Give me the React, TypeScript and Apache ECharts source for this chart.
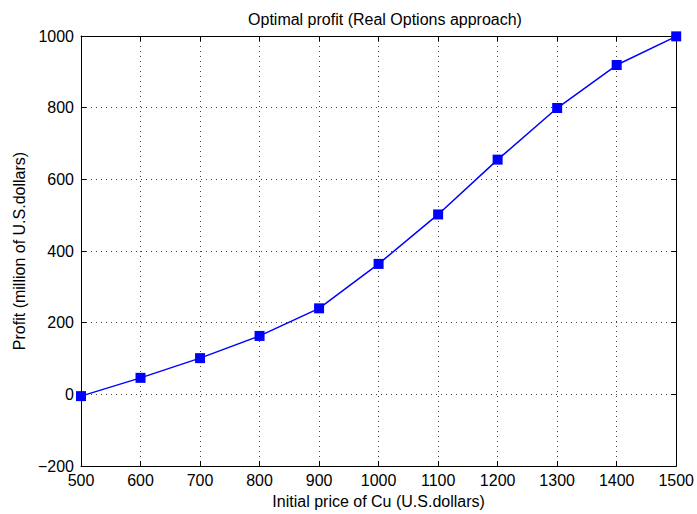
import React, { useEffect, useRef } from "react";
import * as echarts from "echarts";

// Initial copper price (U.S. dollars) and resulting optimal profit (million U.S. dollars)
const prices = [500, 600, 700, 800, 900, 1000, 1100, 1200, 1300, 1400, 1500];
const profits = [-5, 46, 101, 163, 240, 364, 502, 655, 799, 919, 999];

const xTicks = { min: 500, max: 1500, interval: 100 };
const yTicks = { min: -200, max: 1000, interval: 200 };

const FONT = "'Liberation Sans', Arial, Helvetica, sans-serif";
const fmt = (v: number) => (v < 0 ? "\u2212" + Math.abs(v) : String(v));

export default function App() {
  const ref = useRef<HTMLDivElement>(null);

  useEffect(() => {
    if (!ref.current) return;
    const chart = echarts.init(ref.current, undefined, { renderer: "svg" });
    const axisLine = { show: true, onZero: false, lineStyle: { color: "#000", width: 1 } };
    const axisTick = { show: true, inside: true, length: 5, lineStyle: { color: "#000" } };
    const splitLine = { show: true, lineStyle: { color: "#444", type: [1, 4] as any, width: 1 } };
    chart.setOption({
      animation: false,
      backgroundColor: "#fff",
      title: {
        text: "Optimal profit (Real Options approach)",
        left: 380,
        top: 6,
        textAlign: "center",
        textStyle: { fontFamily: FONT, fontSize: 16, fontWeight: "normal", color: "#000" },
      },
      grid: { left: 81, right: 18, top: 36, bottom: 44, containLabel: false },
      xAxis: [
        {
          type: "value",
          ...xTicks,
          name: "Initial price of Cu (U.S.dollars)",
          nameLocation: "middle",
          nameGap: 27,
          nameTextStyle: { fontFamily: FONT, fontSize: 16, color: "#000" },
          axisLine,
          axisTick,
          splitLine,
          axisLabel: { fontFamily: FONT, fontSize: 16, color: "#000", margin: 6, formatter: fmt },
        },
        {
          type: "value",
          position: "top",
          ...xTicks,
          axisLine,
          axisTick,
          splitLine: { show: false },
          axisLabel: { show: false },
        },
      ],
      yAxis: [
        {
          type: "value",
          ...yTicks,
          name: "Profit (million of U.S.dollars)",
          nameLocation: "middle",
          nameGap: 54,
          nameTextStyle: { fontFamily: FONT, fontSize: 16, color: "#000" },
          axisLine,
          axisTick,
          splitLine,
          axisLabel: { fontFamily: FONT, fontSize: 16, color: "#000", margin: 7, formatter: fmt },
        },
        {
          type: "value",
          position: "right",
          ...yTicks,
          axisLine,
          axisTick,
          splitLine: { show: false },
          axisLabel: { show: false },
        },
      ],
      series: [
        {
          type: "line",
          data: prices.map((p, i) => [p, profits[i]]),
          symbol: "rect",
          symbolSize: 10,
          lineStyle: { color: "#0000ff", width: 1.5 },
          itemStyle: { color: "#0000ff" },
          clip: false,
        },
      ],
    });
    return () => chart.dispose();
  }, []);

  return <div ref={ref} style={{ width: 697, height: 514, position: "absolute", left: 0, top: 0 }} />;
}
